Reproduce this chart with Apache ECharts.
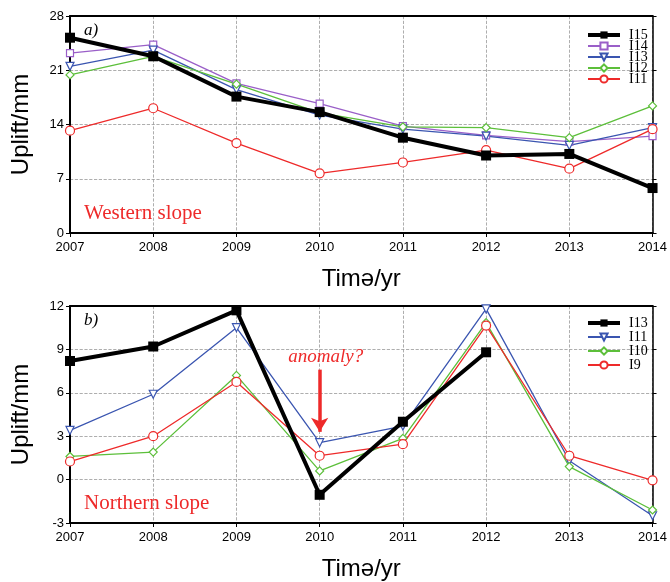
<!DOCTYPE html>
<html>
<head>
<meta charset="utf-8">
<script src="https://cdn.jsdelivr.net/npm/echarts@6/dist/echarts.min.js"></script>
<style>
  html, body { margin: 0; padding: 0; background: #fff; }
  #chart { width: 670px; height: 582px; }
</style>
</head>
<body>
<div id="chart"></div>
<script>
// 年份
const years = ["2007", "2008", "2009", "2010", "2011", "2012", "2013", "2014"];

// a) 西坡
const westI15 = [25.2, 22.8, 17.6, 15.6, 12.3, 10.0, 10.2, 5.8];
const westI14 = [23.2, 24.3, 19.3, 16.7, 13.8, 12.6, 11.8, 12.5];
const westI13 = [21.5, 23.6, 18.5, 15.2, 13.4, 12.5, 11.3, 13.6];
const westI12 = [20.4, 22.8, 19.2, 15.5, 13.7, 13.6, 12.3, 16.4];
const westI11 = [13.2, 16.1, 11.6, 7.7, 9.1, 10.7, 8.3, 13.4];

// b) 北坡
const northI13 = [8.2, 9.2, 11.7, -1.05, 4.0, 8.8, null, null];
const northI11 = [3.4, 5.9, 10.5, 2.55, 3.7, 11.8, 1.3, -2.5];
const northI10 = [1.6, 1.9, 7.2, 0.6, 2.85, 10.85, 0.9, -2.1];
const northI9 = [1.25, 3.0, 6.75, 1.65, 2.45, 10.65, 1.65, -0.05];

// 刻度
const westTicks = { min: 0, max: 28, interval: 7 };
const northTicks = { min: -3, max: 12, interval: 3 };

const chart = echarts.init(document.getElementById("chart"));

const serif = "'Liberation Serif', 'DejaVu Serif', serif";
const sans = "'Liberation Sans', Arial, sans-serif";

function xAxisCfg(gridIndex) {
  return {
    type: "category",
    gridIndex,
    data: years,
    boundaryGap: false,
    name: "Timə/yr",
    nameLocation: "middle",
    nameGap: 34,
    nameTextStyle: { fontSize: 24, color: "#000", fontFamily: sans, verticalAlign: "top" },
    axisLine: { onZero: false, lineStyle: { color: "#000", width: 2 } },
    axisTick: { show: true, length: 4, lineStyle: { color: "#000" } },
    axisLabel: { color: "#000", fontSize: 13, fontFamily: sans, margin: 8 },
    splitLine: { show: true, lineStyle: { color: "#999", type: "dashed", width: 0.8 } },
  };
}

// 上边框
function xTopCfg(gridIndex) {
  return {
    type: "category",
    gridIndex,
    data: years,
    boundaryGap: false,
    position: "top",
    axisLine: { onZero: false, lineStyle: { color: "#000", width: 2 } },
    axisTick: { show: false },
    axisLabel: { show: false },
    splitLine: { show: false },
  };
}

function yAxisCfg(gridIndex, ticks) {
  return {
    type: "value",
    gridIndex,
    min: ticks.min,
    max: ticks.max,
    interval: ticks.interval,
    name: "Uplift/mm",
    nameLocation: "middle",
    nameGap: 37,
    nameTextStyle: { fontSize: 24, color: "#000", fontFamily: sans },
    axisLine: { show: true, onZero: false, lineStyle: { color: "#000", width: 2 } },
    axisTick: { show: true, length: 4, lineStyle: { color: "#000" } },
    axisLabel: { color: "#000", fontSize: 13, fontFamily: sans, margin: 6 },
    splitLine: { show: true, lineStyle: { color: "#999", type: "dashed", width: 0.8 } },
  };
}

// 右边框
function yRightCfg(gridIndex, ticks) {
  return {
    type: "value",
    gridIndex,
    min: ticks.min,
    max: ticks.max,
    interval: ticks.interval,
    position: "right",
    axisLine: { show: true, onZero: false, lineStyle: { color: "#000", width: 1.5 } },
    axisTick: { show: true, length: 4, lineStyle: { color: "#000" } },
    axisLabel: { show: false },
    splitLine: { show: false },
  };
}

function lineSeries(name, data, idx, color, symbol, size, opts) {
  return Object.assign({
    name,
    type: "line",
    xAxisIndex: idx * 2,
    yAxisIndex: idx * 2,
    data,
    symbol,
    symbolSize: size,
    lineStyle: { color, width: 1.3 },
    itemStyle: { color: "#fff", borderColor: color, borderWidth: 1.2 },
    color,
    z: 2,
  }, opts || {});
}

const blackOpts = {
  lineStyle: { color: "#000", width: 4 },
  itemStyle: { color: "#000", borderColor: "#000", borderWidth: 0 },
  z: 5,
};

const legendText = { fontFamily: serif, fontSize: 14, color: "#000", lineHeight: 10, padding: [0, 0, 0, 4] };

const option = {
  animation: false,
  backgroundColor: "#fff",
  title: [
    { text: "a)", left: 79, top: 17, textStyle: { fontSize: 17, fontStyle: "italic", fontWeight: "normal", fontFamily: serif, color: "#000" } },
    { text: "Western slope", left: 79, top: 198, textStyle: { fontSize: 21, fontWeight: "normal", fontFamily: serif, color: "#ee2a2a" } },
    { text: "b)", left: 79, top: 307, textStyle: { fontSize: 17, fontStyle: "italic", fontWeight: "normal", fontFamily: serif, color: "#000" } },
    { text: "Northern slope", left: 79, top: 488, textStyle: { fontSize: 21, fontWeight: "normal", fontFamily: serif, color: "#ee2a2a" } },
  ],
  grid: [
    { left: 70, right: 16, top: 16, height: 217 },
    { left: 70, right: 16, top: 306, height: 217 },
  ],
  legend: [
    {
      data: [{ name: "a:I15", lineStyle: { width: 4 } }, "a:I14", "a:I13", "a:I12", "a:I11"],
      formatter: (n) => n.split(":")[1],
      orient: "vertical",
      left: 586,
      top: 26,
      itemWidth: 32,
      itemHeight: 9,
      itemGap: -3,
      textStyle: legendText,
      padding: [2, 4, 2, 0],
    },
    {
      data: [{ name: "b:I13", lineStyle: { width: 4 } }, "b:I11", "b:I10", "b:I9"],
      formatter: (n) => n.split(":")[1],
      orient: "vertical",
      left: 586,
      top: 314,
      itemWidth: 32,
      itemHeight: 9,
      itemGap: 0,
      textStyle: legendText,
      padding: [2, 4, 2, 0],
    },
  ],
  xAxis: [xAxisCfg(0), xTopCfg(0), xAxisCfg(1), xTopCfg(1)],
  yAxis: [yAxisCfg(0, westTicks), yRightCfg(0, westTicks), yAxisCfg(1, northTicks), yRightCfg(1, northTicks)],
  series: [
    lineSeries("a:I15", westI15, 0, "#000", "rect", 10, blackOpts),
    lineSeries("a:I14", westI14, 0, "#9a5fc8", "rect", 7),
    lineSeries("a:I13", westI13, 0, "#3a55b0", "triangle", 8, { symbolRotate: 180 }),
    lineSeries("a:I12", westI12, 0, "#5cbf3a", "diamond", 8),
    lineSeries("a:I11", westI11, 0, "#ee2a2a", "circle", 9),

    lineSeries("b:I13", northI13, 1, "#000", "rect", 10, blackOpts),
    lineSeries("b:I11", northI11, 1, "#3a55b0", "triangle", 8, { symbolRotate: 180 }),
    lineSeries("b:I10", northI10, 1, "#5cbf3a", "diamond", 8),
    lineSeries("b:I9", northI9, 1, "#ee2a2a", "circle", 9, {
      markLine: {
        silent: true,
        symbol: ["none", "arrow"],
        symbolSize: [13, 14],
        lineStyle: { color: "#ee2a2a", width: 3.5, type: "solid" },
        label: {
          show: true,
          position: "start",
          formatter: "anomaly?",
          color: "#ee2a2a",
          fontStyle: "italic",
          fontFamily: serif,
          fontSize: 19,
          distance: 3,
          offset: [6, 0],
        },
        data: [[{ coord: ["2010", 7.6] }, { coord: ["2010", 3.3] }]],
      },
    }),
  ],
};

chart.setOption(option);
</script>
</body>
</html>
